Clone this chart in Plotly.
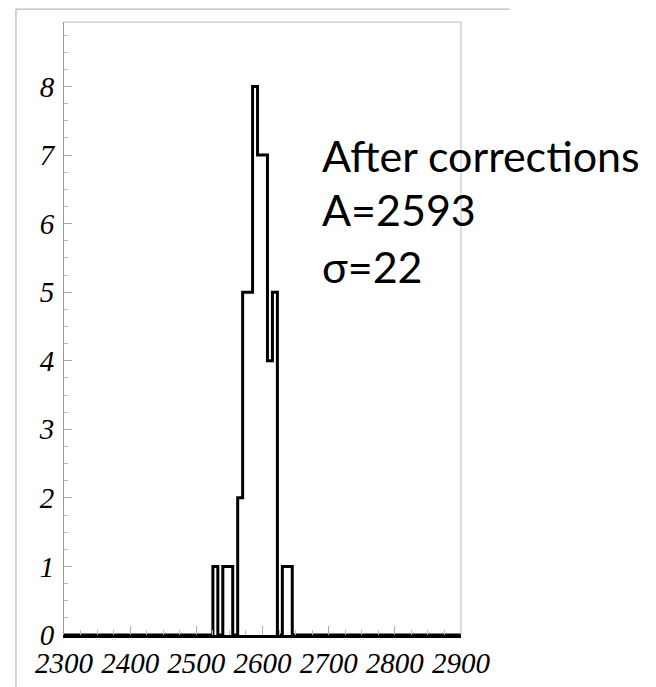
import numpy as np
import plotly.graph_objects as go

# Histogram: 80 bins of width 7.5 from 2300 to 2900
x_min = 2300
x_max = 2900
n_bins = 80
counts = [0] * 30 + [1, 0, 1, 1, 0, 2, 5, 5, 8, 7, 7, 4, 5, 0, 1, 1] + [0] * 34

x_tick_vals = [2300, 2400, 2500, 2600, 2700, 2800, 2900]
x_tick_text = ["2300", "2400", "2500", "2600", "2700", "2800", "2900"]
y_tick_vals = [0, 1, 2, 3, 4, 5, 6, 7, 8]
y_tick_text = ["0", "1", "2", "3", "4", "5", "6", "7", "8"]

note_lines = ["After corrections", "A=2593", "σ=22"]

edges = np.linspace(x_min, x_max, n_bins + 1)
step_y = counts + [counts[-1]]

fig = go.Figure()
fig.add_trace(go.Scatter(
    x=edges, y=step_y, mode="lines", line=dict(shape="hv", color="black", width=3),
    showlegend=False, hoverinfo="skip",
))

x_font = dict(family="Liberation Serif", size=29, color="black", style="italic")
y_font = dict(family="Liberation Serif", size=29, color="black", style="italic")

# page has an 8px body margin, so the figure is 8px smaller in each direction
fig.update_layout(
    width=648, height=679,
    margin=dict(l=56, r=195, t=14, b=52),
    paper_bgcolor="white", plot_bgcolor="white",
    xaxis=dict(
        range=[x_min, x_max], tickvals=x_tick_vals, ticktext=x_tick_text,
        ticks="inside", ticklen=9, tickcolor="#aaaaaa", tickwidth=1,
        minor=dict(dtick=25, tick0=2300, ticks="inside", ticklen=5, tickcolor="#bbbbbb"),
        showgrid=False, zeroline=False, showline=True, linecolor="black", linewidth=3,
        tickfont=x_font, automargin=False,
    ),
    yaxis=dict(
        range=[0, 8.94], tickvals=y_tick_vals, ticktext=y_tick_text,
        ticks="inside", ticklen=8, tickcolor="#aaaaaa", tickwidth=1,
        minor=dict(dtick=0.25, tick0=0, ticks="inside", ticklen=4, tickcolor="#bbbbbb"),
        showgrid=False, zeroline=False, showline=True, linecolor="#999999", linewidth=1,
        tickfont=y_font, ticklabelstandoff=3, automargin=False,
    ),
)

# inner frame (top and right)
fig.add_shape(type="line", xref="paper", yref="paper", x0=0, x1=1, y0=1, y1=1,
              line=dict(color="#bbbbbb", width=1))
fig.add_shape(type="line", xref="paper", yref="paper", x0=1, x1=1, y0=0, y1=1,
              line=dict(color="#bbbbbb", width=1))
# outer page frame
fig.add_shape(type="line", xref="paper", yref="paper", x0=-0.121, x1=1.123, y0=1.021, y1=1.021,
              line=dict(color="#aaaaaa", width=1))
fig.add_shape(type="line", xref="paper", yref="paper", x0=-0.121, x1=-0.121, y0=-0.09, y1=1.021,
              line=dict(color="#aaaaaa", width=1))

ys = [0.782, 0.694, 0.601]
for txt, yy in zip(note_lines, ys):
    fig.add_annotation(text=txt, xref="paper", yref="paper", x=0.646, y=yy,
                       xanchor="left", yanchor="middle", showarrow=False,
                       font=dict(family="Lato", size=43, color="black"))

fig.write_html("out.html")
